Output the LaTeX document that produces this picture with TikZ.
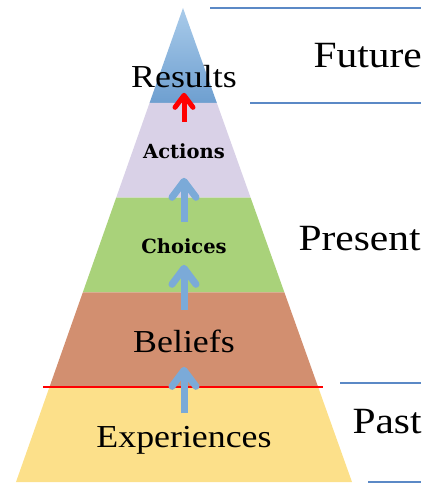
\documentclass[tikz,border=0pt]{standalone}
\usepackage{fontspec}
\setmainfont[FakeStretch=1.12]{Liberation Serif}
\newfontfamily\heavyserif{DejaVu Serif}
\usepackage{tikz}
\usetikzlibrary{calc,arrows.meta,positioning}
\definecolor{resultstop}{HTML}{A9CBEA}
\definecolor{resultsbot}{HTML}{6E9FD0}
\definecolor{actionsfill}{HTML}{D9D1E7}
\definecolor{choicesfill}{HTML}{A9D27A}
\definecolor{beliefsfill}{HTML}{D28F70}
\definecolor{experfill}{HTML}{FCE08A}
\definecolor{lineblue}{HTML}{5B89C6}
\definecolor{arrowblue}{HTML}{7BAAD8}
\tikzset{
  bigtext/.style={font=\fontsize{32}{36}\selectfont,anchor=base},
  smalltext/.style={font=\heavyserif\bfseries\fontsize{19.5}{23}\selectfont,anchor=base},
  timetext/.style={font=\fontsize{37}{42}\selectfont,anchor=base west},
  upflow/.style={-{Straight Barb[round,width=24pt,length=16pt]},line width=7pt,arrowblue},
  timeline/.style={lineblue,line width=2.2pt}
}

\begin{document}
\begin{tikzpicture}[x=1pt,y=-1pt]
  \useasboundingbox (0,0) rectangle (421,487);
  \clip (0,0) rectangle (421,487);
  \coordinate (apex) at (183,8);
  \coordinate (bl) at (16,482);
  \coordinate (br) at (352,482);
  % layers
  \shade[top color=resultstop,bottom color=resultsbot]
    (apex) -- ($(apex)!0.2!(bl)$) -- ($(apex)!0.2!(br)$) -- cycle;
  \foreach \a/\b/\c in {0.2/0.4/actionsfill,0.4/0.6/choicesfill,0.6/0.8/beliefsfill,0.8/1/experfill}
    \fill[\c] ($(apex)!\a!(bl)$) -- ($(apex)!\b!(bl)$) -- ($(apex)!\b!(br)$) -- ($(apex)!\a!(br)$) -- cycle;
  \draw[red,line width=1.5pt] (43,387) -- (323,387);
  % labels
  \node[bigtext] (results) at (184,88) {Results};
  \node[smalltext] (actions) at (184,158) {Actions};
  \node[smalltext] (choices) at (184,253) {Choices};
  \node[bigtext] (beliefs) at (184,352) {Beliefs};
  \node[bigtext] (exper) at (184,447) {Experiences};
  \draw[upflow,shorten <=9pt,shorten >=11pt] (exper.north) -- (beliefs.south);
  \draw[upflow,shorten <=16pt,shorten >=8pt] (beliefs.north) -- (choices.south);
  \draw[upflow,shorten <=13pt,shorten >=16pt] (choices.north) -- (actions.south);
  \draw[red,-{Straight Barb[round,width=18pt,length=12pt]},line width=5pt,shorten <=18pt,shorten >=1pt]
    (actions.north) -- (results.south);
  % time
  \draw[timeline] (210,8) -- (421,8);
  \draw[timeline] (250,103) -- (421,103);
  \draw[timeline] (340,383) -- (421,383);
  \draw[timeline] (368,482) -- (421,482);
  \node[timetext] (future) at (310,67) {Future};
  \node[timetext] (present) at (295,250) {Present};
  \node[timetext] (past) at (349,433) {Past};
\end{tikzpicture}
\end{document}
